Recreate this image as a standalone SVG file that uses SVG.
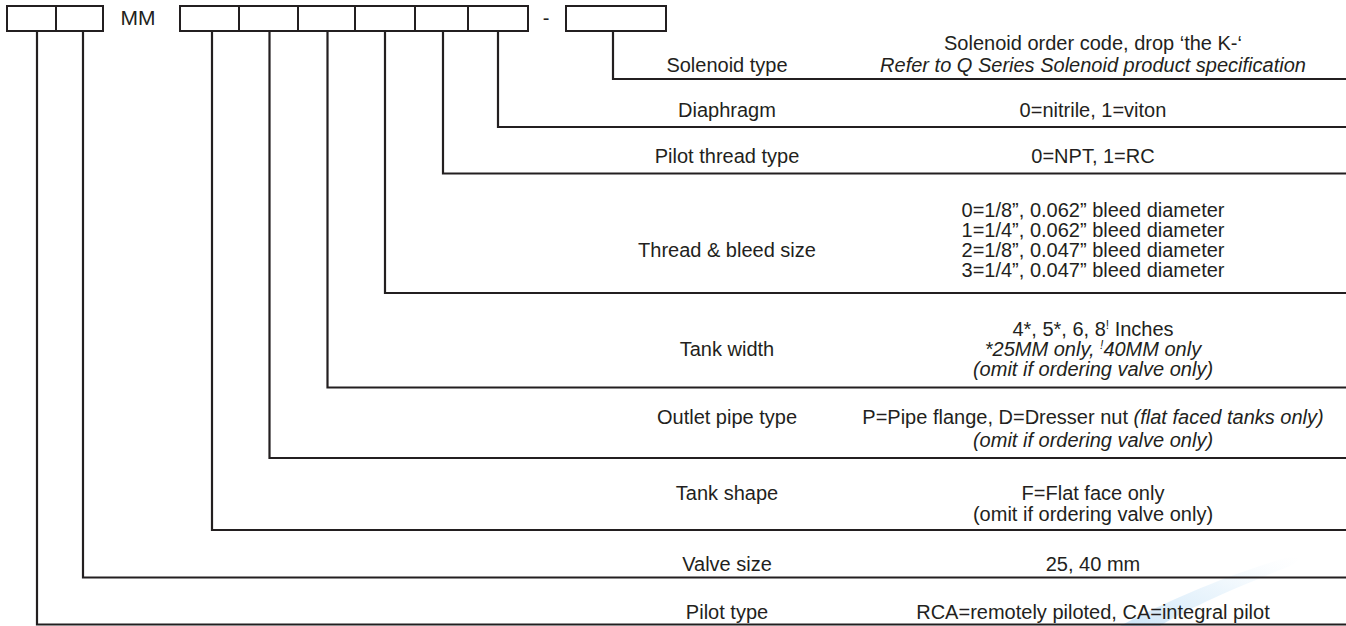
<svg xmlns="http://www.w3.org/2000/svg" width="1346" height="626" viewBox="0 0 1346 626">
<style>
.box{fill:#fff;stroke:#231f20;stroke-width:2}
.ln{fill:none;stroke:#231f20;stroke-width:2.2}
text{font-family:"Liberation Sans",Arial,sans-serif;font-size:20px;fill:#231f20;text-anchor:middle}
.it{font-style:italic}
.sup{font-size:12px}
</style>
<defs>
<linearGradient id="wm" x1="0" y1="1" x2="1" y2="0">
<stop offset="0" stop-color="#5aa9e6" stop-opacity="0.30"/>
<stop offset="0.55" stop-color="#8cc6f0" stop-opacity="0.16"/>
<stop offset="1" stop-color="#cfe6f8" stop-opacity="0"/>
</linearGradient>
</defs>
<rect width="1346" height="626" fill="#fff"/>
<path d="M1120,626 C1170,600 1220,578 1285,558 C1300,554 1305,560 1285,568 C1230,590 1185,610 1160,626 Z" fill="url(#wm)"/>
<g id="code-boxes">
<rect class="box" x="7" y="6" width="49" height="25"/>
<rect class="box" x="56" y="6" width="47" height="25"/>
<text x="138" y="25" style="font-size:21px">MM</text>
<rect class="box" x="180" y="6" width="59" height="25"/>
<rect class="box" x="239" y="6" width="59" height="25"/>
<rect class="box" x="298" y="6" width="57" height="25"/>
<rect class="box" x="355" y="6" width="60" height="25"/>
<rect class="box" x="415" y="6" width="53" height="25"/>
<rect class="box" x="468" y="6" width="60" height="25"/>
<text x="546" y="25">-</text>
<rect class="box" x="566" y="6" width="100" height="25"/>
</g>
<g id="connectors">
<path class="ln" d="M613,31 V79 H1346"/>
<path class="ln" d="M498,31 V127 H1346"/>
<path class="ln" d="M443,31 V173.5 H1346"/>
<path class="ln" d="M385,31 V293 H1346"/>
<path class="ln" d="M327.5,31 V387.5 H1346"/>
<path class="ln" d="M269.5,31 V458 H1346"/>
<path class="ln" d="M212,31 V530 H1346"/>
<path class="ln" d="M83,31 V577.5 H1346"/>
<path class="ln" d="M37,31 V624.5 H1346"/>
</g>
<g id="solenoid-type">
<text x="727" y="72">Solenoid type</text>
<text x="1093" y="50">Solenoid order code, drop ‘the K-‘</text>
<text x="1093" y="72" class="it">Refer to Q Series Solenoid product specification</text>
</g>
<g id="diaphragm">
<text x="727" y="117">Diaphragm</text>
<text x="1093" y="117">0=nitrile, 1=viton</text>
</g>
<g id="pilot-thread-type">
<text x="727" y="163">Pilot thread type</text>
<text x="1093" y="163">0=NPT, 1=RC</text>
</g>
<g id="thread-bleed-size">
<text x="727" y="257">Thread &amp; bleed size</text>
<text x="1093" y="217">0=1/8”, 0.062” bleed diameter</text>
<text x="1093" y="237">1=1/4”, 0.062” bleed diameter</text>
<text x="1093" y="257">2=1/8”, 0.047” bleed diameter</text>
<text x="1093" y="277">3=1/4”, 0.047” bleed diameter</text>
</g>
<g id="tank-width">
<text x="727" y="356">Tank width</text>
<text x="1093" y="336">4*, 5*, 6, 8<tspan class="sup" dy="-7">!</tspan><tspan dy="7"> Inches</tspan></text>
<text x="1093" y="356" class="it">*25MM only, <tspan class="sup" dy="-7">!</tspan><tspan dy="7">40MM only</tspan></text>
<text x="1093" y="376" class="it">(omit if ordering valve only)</text>
</g>
<g id="outlet-pipe-type">
<text x="727" y="424">Outlet pipe type</text>
<text x="1093" y="424">P=Pipe flange, D=Dresser nut <tspan class="it">(flat faced tanks only)</tspan></text>
<text x="1093" y="447" class="it">(omit if ordering valve only)</text>
</g>
<g id="tank-shape">
<text x="727" y="500">Tank shape</text>
<text x="1093" y="500">F=Flat face only</text>
<text x="1093" y="521">(omit if ordering valve only)</text>
</g>
<g id="valve-size">
<text x="727" y="571">Valve size</text>
<text x="1093" y="571">25, 40 mm</text>
</g>
<g id="pilot-type">
<text x="727" y="619">Pilot type</text>
<text x="1093" y="619">RCA=remotely piloted, CA=integral pilot</text>
</g>
</svg>
